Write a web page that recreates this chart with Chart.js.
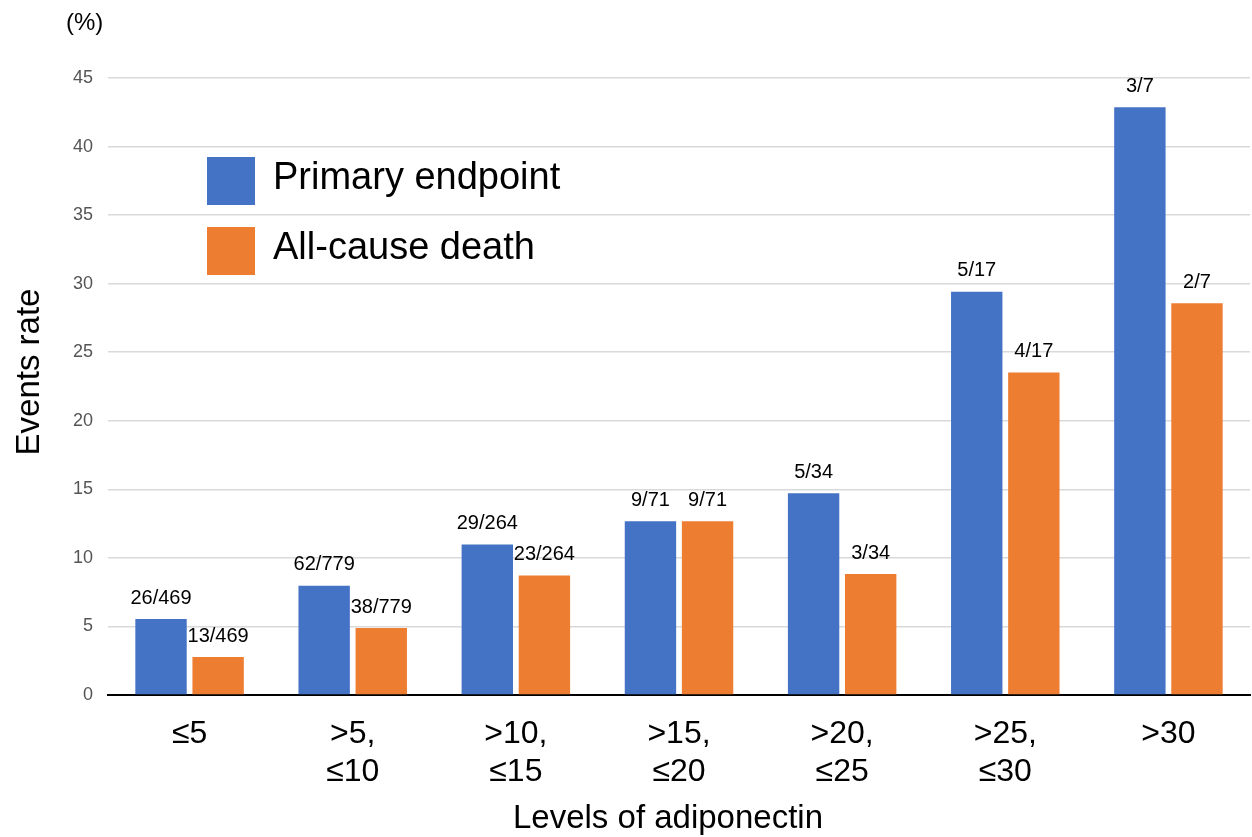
<!DOCTYPE html>
<html lang="en">
<head>
  <meta charset="utf-8">
  <title>Events rate by levels of adiponectin</title>
  <style>
    * { box-sizing:border-box; margin:0; padding:0 }
    body { background:#fff; width:1252px; height:837px; overflow:hidden; }
    #wrap { position:relative; width:1252px; height:837px; }
  </style>
</head>
<body>
  <div id="wrap"><canvas id="chart"></canvas></div>

  <script src="https://cdn.jsdelivr.net/npm/chart.js@4.4.1/dist/chart.umd.min.js"></script>
  <script>
  // categories (levels of adiponectin)
  const categories = [
    ['≤5'], ['>5,', '≤10'], ['>10,', '≤15'], ['>15,', '≤20'],
    ['>20,', '≤25'], ['>25,', '≤30'], ['>30']
  ];
  // event rates (%)
  const primaryRate = [5.54, 7.96, 10.98, 12.68, 14.71, 29.41, 42.86];
  const deathRate   = [2.77, 4.88, 8.71, 12.68, 8.82, 23.53, 28.57];
  // counts shown above bars
  const primaryLabels = ['26/469', '62/779', '29/264', '9/71', '5/34', '5/17', '3/7'];
  const deathLabels   = ['13/469', '38/779', '23/264', '9/71', '3/34', '4/17', '2/7'];
  const yTicks = [0, 5, 10, 15, 20, 25, 30, 35, 40, 45];

  const BLUE = '#4472C4', ORANGE = '#ED7D31';
  const FONT = "'Liberation Sans', Arial, Helvetica, sans-serif";

  const extras = {
    id: 'extras',
    afterDatasetsDraw(chart) {
      const ctx = chart.ctx;
      ctx.save();
      // counts above bars
      ctx.font = '20px ' + FONT;
      ctx.fillStyle = '#000';
      ctx.textAlign = 'center';
      ctx.textBaseline = 'middle';
      [primaryLabels, deathLabels].forEach((labels, di) => {
        chart.getDatasetMeta(di).data.forEach((bar, i) => {
          ctx.fillText(labels[i], bar.x, bar.y - 21);
        });
      });
      // legend inside plot
      const items = [['Primary endpoint', BLUE], ['All-cause death', ORANGE]];
      items.forEach(([txt, col], i) => {
        const y = 157 + i * 70;
        ctx.fillStyle = col;
        ctx.fillRect(207, y, 48, 48);
        ctx.fillStyle = '#000';
        ctx.font = '38px ' + FONT;
        ctx.textAlign = 'left';
        ctx.textBaseline = 'middle';
        ctx.fillText(txt, 273, y + 22);
      });
      // unit mark
      ctx.font = '24px ' + FONT;
      ctx.fillText('(%)', 66, 23);
      // axis titles
      ctx.font = '33px ' + FONT;
      ctx.textAlign = 'center';
      ctx.fillText('Levels of adiponectin', 668, 819);
      ctx.translate(30, 372);
      ctx.rotate(-Math.PI / 2);
      ctx.fillText('Events rate', 0, 0);
      ctx.restore();
    }
  };

  new Chart(document.getElementById('chart'), {
    type: 'bar',
    data: {
      labels: categories,
      datasets: [
        { label: 'Primary endpoint', data: primaryRate, backgroundColor: BLUE },
        { label: 'All-cause death', data: deathRate, backgroundColor: ORANGE }
      ]
    },
    options: {
      responsive: true,
      maintainAspectRatio: false,
      animation: false,
      layout: { padding: { top: 78, right: 2, left: 0, bottom: 0 } },
      datasets: { bar: { categoryPercentage: 0.7, barPercentage: 0.9 } },
      plugins: { legend: { display: false }, tooltip: { enabled: false } },
      scales: {
        x: {
          afterFit: s => { s.height = 142; },
          grid: { display: false },
          border: { color: '#000', width: 2 },
          ticks: {
            color: '#000',
            font: { family: FONT, size: 32, lineHeight: 1.2 },
            padding: 12,
            maxRotation: 0
          }
        },
        y: {
          min: 0, max: 45,
          afterBuildTicks: s => { s.ticks = yTicks.map(v => ({ value: v })); },
          afterFit: s => { s.width = 108; },
          grid: { color: '#d9d9d9', lineWidth: 1.5, drawTicks: false },
          border: { display: false },
          ticks: {
            color: '#555',
            font: { family: FONT, size: 18 },
            padding: 15
          }
        }
      }
    },
    plugins: [extras]
  });
  </script>
</body>
</html>
